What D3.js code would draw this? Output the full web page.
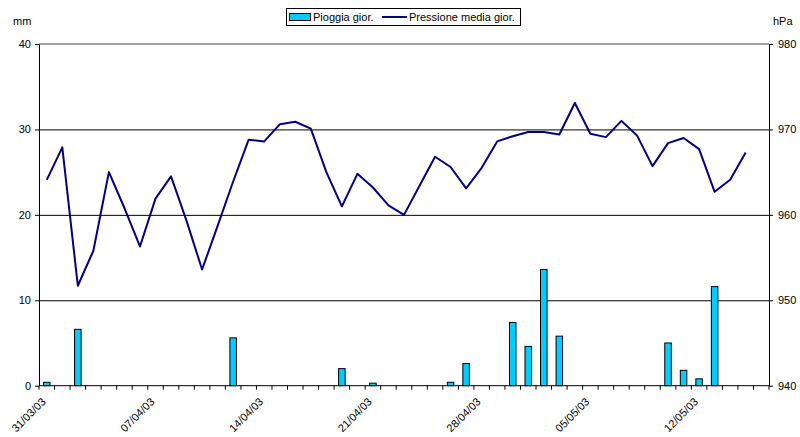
<!DOCTYPE html>
<html>
<head>
<meta charset="utf-8">
<script src="https://cdn.jsdelivr.net/npm/d3@7"></script>
<style>
  body { margin: 0; background: #fff; }
  svg { font-family: "Liberation Sans", Arial, sans-serif; }
  .axis path { stroke: #000; }
  .axis line { stroke: #000; }
  .axis text { font-size: 11px; fill: #000; }
</style>
</head>
<body>
<div id="chart"></div>
<script>
// giorni (categorie)
var dates = [
  "31/03/03", "01/04/03", "02/04/03", "03/04/03", "04/04/03", "05/04/03", "06/04/03",
  "07/04/03", "08/04/03", "09/04/03", "10/04/03", "11/04/03", "12/04/03", "13/04/03",
  "14/04/03", "15/04/03", "16/04/03", "17/04/03", "18/04/03", "19/04/03", "20/04/03",
  "21/04/03", "22/04/03", "23/04/03", "24/04/03", "25/04/03", "26/04/03", "27/04/03",
  "28/04/03", "29/04/03", "30/04/03", "01/05/03", "02/05/03", "03/05/03", "04/05/03",
  "05/05/03", "06/05/03", "07/05/03", "08/05/03", "09/05/03", "10/05/03", "11/05/03",
  "12/05/03", "13/05/03", "14/05/03", "15/05/03", "16/05/03"
];

// pioggia giornaliera (mm)
var rain = [
  0.4, 0, 6.6, 0, 0, 0, 0,
  0, 0, 0, 0, 0, 5.6, 0,
  0, 0, 0, 0, 0, 2.0, 0,
  0.3, 0, 0, 0, 0, 0.4, 2.6,
  0, 0, 7.4, 4.6, 13.6, 5.8, 0,
  0, 0, 0, 0, 0, 5.0, 1.8,
  0.8, 11.6, 0, 0, 0
];

// pressione media giornaliera (hPa)
var pressure = [
  964.1, 967.9, 951.7, 955.8, 965.0, 960.8, 956.3,
  961.9, 964.5, 959.3, 953.6, 958.7, 963.9, 968.8,
  968.6, 970.6, 970.9, 970.1, 965.0, 961.0, 964.8,
  963.2, 961.1, 960.0, 963.4, 966.8, 965.6, 963.1,
  965.5, 968.6, 969.2, 969.7, 969.7, 969.4, 973.1,
  969.5, 969.1, 971.0, 969.3, 965.7, 968.4, 969.0,
  967.7, 962.7, 964.1, 967.3, null
];

var mmTicks = [0, 10, 20, 30, 40];
var hpaTicks = [940, 950, 960, 970, 980];

var width = 800, height = 437;
var margin = { top: 44, right: 31, bottom: 51.3, left: 39 };

var svg = d3.select("#chart")
  .append("svg")
  .attr("width", width)
  .attr("height", height);

// X scale
var xScale = d3.scaleBand()
  .domain(dates)
  .range([margin.left, width - margin.right])
  .padding(0);

// Y scales
var yLeft = d3.scaleLinear()
  .domain([0, 40])
  .range([height - margin.bottom, margin.top]);

var yRight = d3.scaleLinear()
  .domain([940, 980])
  .range([height - margin.bottom, margin.top]);

// grid
svg.append("g")
  .attr("transform", `translate(${margin.left},0)`)
  .call(d3.axisLeft(yLeft)
    .tickValues(mmTicks.slice(1, 4))
    .tickSize(-(width - margin.left - margin.right))
    .tickFormat(""))
  .call(g => g.select(".domain").remove())
  .selectAll("line")
  .style("stroke", "#000")
  .style("stroke-width", 1);

// top border
svg.append("line")
  .attr("x1", margin.left)
  .attr("x2", width - margin.right)
  .attr("y1", yLeft(40))
  .attr("y2", yLeft(40))
  .style("stroke", "#808080")
  .style("stroke-width", 1.5);

// bars
var barW = xScale.bandwidth() * 0.42;
svg.append("g")
  .attr("class", "bars")
  .selectAll("rect")
  .data(dates.map((d, i) => ({ date: d, v: rain[i] })).filter(d => d.v > 0))
  .enter()
  .append("rect")
  .attr("x", d => xScale(d.date) + xScale.bandwidth() / 2 - barW / 2)
  .attr("y", d => yLeft(d.v))
  .attr("width", barW)
  .attr("height", d => yLeft(0) - yLeft(d.v))
  .style("fill", "#00CCFF")
  .style("stroke", "#000")
  .style("stroke-width", 1);

// line
var line = d3.line()
  .defined(d => d.v != null)
  .x(d => xScale(d.date) + xScale.bandwidth() / 2)
  .y(d => yRight(d.v));

svg.append("path")
  .datum(dates.map((d, i) => ({ date: d, v: pressure[i] })))
  .attr("d", line)
  .style("fill", "none")
  .style("stroke", "#000080")
  .style("stroke-width", 2)
  .style("stroke-linejoin", "round");

// Left axis
svg.append("g")
  .attr("class", "axis")
  .attr("transform", `translate(${margin.left},0)`)
  .call(d3.axisLeft(yLeft).tickValues(mmTicks).tickSize(4).tickPadding(4).tickSizeOuter(0));

// Right axis
svg.append("g")
  .attr("class", "axis")
  .attr("transform", `translate(${width - margin.right},0)`)
  .call(d3.axisRight(yRight).tickValues(hpaTicks).tickSize(4).tickPadding(5).tickSizeOuter(0));

// X axis
var xAxisG = svg.append("g")
  .attr("class", "axis");

xAxisG.append("line")
  .attr("x1", margin.left)
  .attr("x2", width - margin.right)
  .attr("y1", yLeft(0))
  .attr("y2", yLeft(0))
  .style("stroke", "#000");

xAxisG.selectAll(".xtick")
  .data(dates.concat(["end"]))
  .enter()
  .append("line")
  .attr("class", "xtick")
  .attr("x1", (d, i) => i < dates.length ? xScale(d) : xScale.range()[1])
  .attr("x2", (d, i) => i < dates.length ? xScale(d) : xScale.range()[1])
  .attr("y1", yLeft(0))
  .attr("y2", yLeft(0) + 4)
  .style("stroke", "#000");

xAxisG.selectAll(".xlabel")
  .data(dates.filter((d, i) => i % 7 === 0))
  .enter()
  .append("text")
  .attr("class", "xlabel")
  .attr("text-anchor", "end")
  .attr("transform", d => `translate(${xScale(d) + xScale.bandwidth() / 2 - 3},${yLeft(0) + 14}) rotate(-45)`)
  .attr("dy", "0.35em")
  .style("font-size", "11px")
  .text(d => d);

// unit labels
svg.append("text")
  .attr("x", 13)
  .attr("y", 25)
  .style("font-size", "11px")
  .text("mm");

svg.append("text")
  .attr("x", 773)
  .attr("y", 25)
  .style("font-size", "11px")
  .text("hPa");

// legend
var legend = svg.append("g").attr("class", "legend");
legend.append("rect")
  .attr("x", 286.5)
  .attr("y", 8.5)
  .attr("width", 234)
  .attr("height", 17)
  .style("fill", "#fff")
  .style("stroke", "#000");
legend.append("rect")
  .attr("x", 289.5)
  .attr("y", 13.5)
  .attr("width", 21)
  .attr("height", 7)
  .style("fill", "#00CCFF")
  .style("stroke", "#000");
legend.append("text")
  .attr("x", 313)
  .attr("y", 21)
  .style("font-size", "11px")
  .text("Pioggia gior.");
legend.append("line")
  .attr("x1", 382)
  .attr("x2", 407)
  .attr("y1", 17)
  .attr("y2", 17)
  .style("stroke", "#000080")
  .style("stroke-width", 2);
legend.append("text")
  .attr("x", 409)
  .attr("y", 21)
  .style("font-size", "11px")
  .text("Pressione media gior.");
</script>
</body>
</html>
